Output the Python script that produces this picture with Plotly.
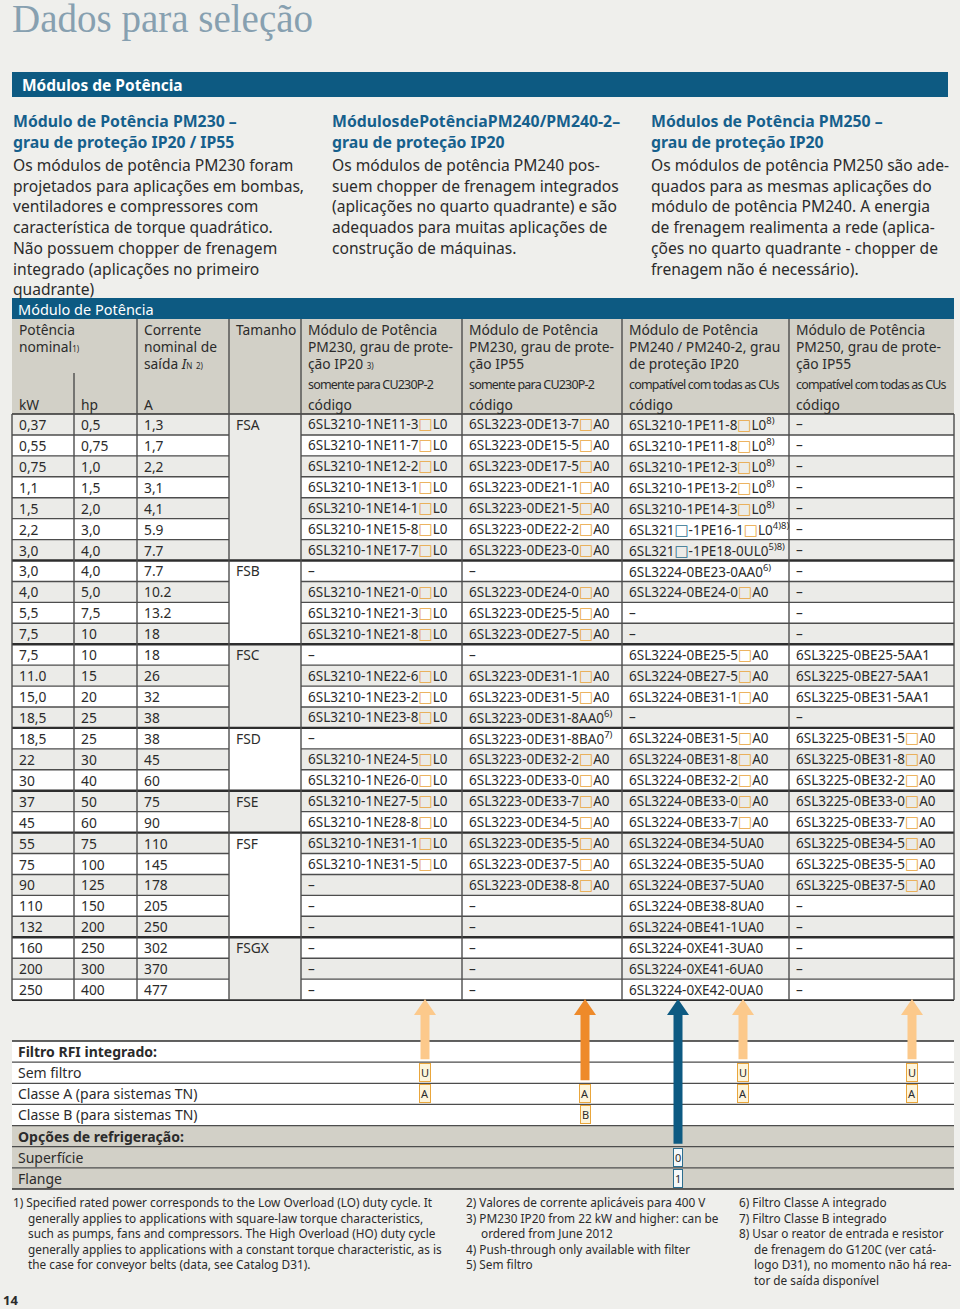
import plotly.graph_objects as go

# ---------------- data ----------------
power_kw = ["0,37", "0,55", "0,75", "1,1", "1,5", "2,2", "3,0",
            "3,0", "4,0", "5,5", "7,5",
            "7,5", "11.0", "15,0", "18,5",
            "18,5", "22", "30",
            "37", "45",
            "55", "75", "90", "110", "132",
            "160", "200", "250"]
power_hp = ["0,5", "0,75", "1,0", "1,5", "2,0", "3,0", "4,0",
            "4,0", "5,0", "7,5", "10",
            "10", "15", "20", "25",
            "25", "30", "40",
            "50", "60",
            "75", "100", "125", "150", "200",
            "250", "300", "400"]
current_a = ["1,3", "1,7", "2,2", "3,1", "4,1", "5.9", "7.7",
             "7.7", "10.2", "13.2", "18",
             "18", "26", "32", "38",
             "38", "45", "60",
             "75", "90",
             "110", "145", "178", "205", "250",
             "302", "370", "477"]
frame_sizes = ["FSA", "FSB", "FSC", "FSD", "FSE", "FSF", "FSGX"]
frame_rows = [7, 4, 4, 3, 2, 5, 3]

pm230_ip20 = ["6SL3210-1NE11-3□L0", "6SL3210-1NE11-7□L0", "6SL3210-1NE12-2□L0",
              "6SL3210-1NE13-1□L0", "6SL3210-1NE14-1□L0", "6SL3210-1NE15-8□L0",
              "6SL3210-1NE17-7□L0",
              "–", "6SL3210-1NE21-0□L0", "6SL3210-1NE21-3□L0", "6SL3210-1NE21-8□L0",
              "–", "6SL3210-1NE22-6□L0", "6SL3210-1NE23-2□L0", "6SL3210-1NE23-8□L0",
              "–", "6SL3210-1NE24-5□L0", "6SL3210-1NE26-0□L0",
              "6SL3210-1NE27-5□L0", "6SL3210-1NE28-8□L0",
              "6SL3210-1NE31-1□L0", "6SL3210-1NE31-5□L0", "–", "–", "–",
              "–", "–", "–"]
pm230_ip55 = ["6SL3223-0DE13-7□A0", "6SL3223-0DE15-5□A0", "6SL3223-0DE17-5□A0",
              "6SL3223-0DE21-1□A0", "6SL3223-0DE21-5□A0", "6SL3223-0DE22-2□A0",
              "6SL3223-0DE23-0□A0",
              "–", "6SL3223-0DE24-0□A0", "6SL3223-0DE25-5□A0", "6SL3223-0DE27-5□A0",
              "–", "6SL3223-0DE31-1□A0", "6SL3223-0DE31-5□A0", "6SL3223-0DE31-8AA0",
              "6SL3223-0DE31-8BA0", "6SL3223-0DE32-2□A0", "6SL3223-0DE33-0□A0",
              "6SL3223-0DE33-7□A0", "6SL3223-0DE34-5□A0",
              "6SL3223-0DE35-5□A0", "6SL3223-0DE37-5□A0", "6SL3223-0DE38-8□A0", "–", "–",
              "–", "–", "–"]
pm230_ip55_notes = [""] * 14 + ["6)", "7)"] + [""] * 12
pm240 = ["6SL3210-1PE11-8□L0", "6SL3210-1PE11-8□L0", "6SL3210-1PE12-3□L0",
         "6SL3210-1PE13-2□L0", "6SL3210-1PE14-3□L0", "6SL321■-1PE16-1□L0",
         "6SL321■-1PE18-0UL0",
         "6SL3224-0BE23-0AA0", "6SL3224-0BE24-0□A0", "–", "–",
         "6SL3224-0BE25-5□A0", "6SL3224-0BE27-5□A0", "6SL3224-0BE31-1□A0", "–",
         "6SL3224-0BE31-5□A0", "6SL3224-0BE31-8□A0", "6SL3224-0BE32-2□A0",
         "6SL3224-0BE33-0□A0", "6SL3224-0BE33-7□A0",
         "6SL3224-0BE34-5UA0", "6SL3224-0BE35-5UA0", "6SL3224-0BE37-5UA0",
         "6SL3224-0BE38-8UA0", "6SL3224-0BE41-1UA0",
         "6SL3224-0XE41-3UA0", "6SL3224-0XE41-6UA0", "6SL3224-0XE42-0UA0"]
pm240_notes = ["8)"] * 5 + ["4)8)", "5)8)", "6)"] + [""] * 20
pm250 = ["–"] * 11 + ["6SL3225-0BE25-5AA1", "6SL3225-0BE27-5AA1", "6SL3225-0BE31-5AA1", "–",
                      "6SL3225-0BE31-5□A0", "6SL3225-0BE31-8□A0", "6SL3225-0BE32-2□A0",
                      "6SL3225-0BE33-0□A0", "6SL3225-0BE33-7□A0",
                      "6SL3225-0BE34-5□A0", "6SL3225-0BE35-5□A0", "6SL3225-0BE37-5□A0",
                      "–", "–", "–", "–", "–"]

rfi_labels = ["Sem filtro", "Classe A (para sistemas TN)", "Classe B (para sistemas TN)"]
cooling_labels = ["Superfície", "Flange"]
rfi_ip20 = ["U", "A", ""]
rfi_ip55 = ["", "A", "B"]
rfi_pm240 = ["U", "A", ""]
rfi_pm250 = ["U", "A", ""]
cooling_pm240 = ["0", "1"]

# ---------------- style / layout ----------------
PAGE_W, PAGE_H = 960, 1309
FONT = "Noto Sans"
PAGE_BG = "#efefec"
BLUE = "#0d5a82"
HEAD_BLUE = "#16608c"
TITLE_GRAY = "#87a0b0"
TEXT = "#2b2b2b"
HEAD_FILL = "#d2d0c7"
ROW_ALT = "#ebebe8"
LINE = "#4d4d4d"
LINE_DARK = "#2e2e2e"
BOX_ORANGE = "#e9a63c"
BOX_BLUE = "#2c6d8e"

COL_EDGES = [12, 74, 137, 229, 301, 462, 622, 789, 954]
HEAD_TOP, HEAD_BOTTOM = 319, 414
ROW_H = 20.93
LOWER_TOP, LOWER_H = 1041, 21.14
ARROW_TOP = 999

fig = go.Figure()


def rect(x0, y0, x1, y1, fill):
    fig.add_shape(type="rect", xref="x", yref="y", x0=x0, y0=y0, x1=x1, y1=y1,
                  fillcolor=fill, line=dict(width=0), layer="above")


def line(x0, y0, x1, y1, width=1.4, color=LINE):
    fig.add_shape(type="line", xref="x", yref="y", x0=x0, y0=y0, x1=x1, y1=y1,
                  line=dict(width=width, color=color), layer="above")


def text(x, y, s, size=13.5, color=TEXT, family=FONT, xanchor="left"):
    fig.add_annotation(x=x, y=y, xref="x", yref="y", text=s, showarrow=False,
                       xanchor=xanchor, yanchor="middle", align="left",
                       font=dict(family=family, size=size, color=color))


def code_html(code, note=""):
    box = '<span style="font-family:\'DejaVu Sans\';font-size:15px;color:{}">□</span>'
    s = code.replace("□", box.format(BOX_ORANGE)).replace("■", box.format(BOX_BLUE))
    if note:
        s += f"<sup>{note}</sup>"
    return s


def small(s):
    # small footnote marks in the header, kept on the text line
    return f'<span style="font-size:8px">{s}</span>'


def row_y(i):
    return HEAD_BOTTOM + (i + 0.5) * ROW_H


# ---- page title and intro ----
text(10, 19, "Dados para seleção", size=39, color=TITLE_GRAY, family="Liberation Serif")
rect(12, 72, 948, 97, BLUE)
text(20, 84.5, "<b>Módulos de Potência</b>", size=15.5, color="white")

intro = [
    (13, ["Módulo de Potência PM230 –", "grau de proteção IP20 / IP55"],
     ["Os módulos de potência PM230 foram", "projetados para aplicações em bombas,",
      "ventiladores e compressores com", "característica de torque quadrático.",
      "Não possuem chopper de frenagem", "integrado (aplicações no primeiro", "quadrante)"]),
    (332, ['<span style="word-spacing:-4px">Módulos de Potência PM240/PM240-2 –</span>',
           "grau de proteção IP20"],
     ["Os módulos de potência PM240 pos-", "suem chopper de frenagem integrados",
      "(aplicações no quarto quadrante) e são", "adequados para muitas aplicações de",
      "construção de máquinas."]),
    (651, ["Módulos de Potência PM250 –", "grau de proteção IP20"],
     ["Os módulos de potência PM250 são ade-", "quados para as mesmas aplicações do",
      "módulo de potência PM240. A energia", "de frenagem realimenta a rede (aplica-",
      "ções no quarto quadrante - chopper de", "frenagem não é necessário)."]),
]
for x, heads, body in intro:
    for k, h in enumerate(heads):
        text(x - 2, 121 + k * 21, f"<b>{h}</b>", size=15.8, color=HEAD_BLUE)
    for k, b in enumerate(body):
        text(x - 2, 165 + k * 20.7, b, size=15.6)

# ---- table frame ----
n_rows = len(power_kw)
table_bottom = HEAD_BOTTOM + n_rows * ROW_H
rect(COL_EDGES[0], 298, COL_EDGES[-1], HEAD_TOP, BLUE)
text(16, 309, "Módulo de Potência", size=14.5, color="white")
rect(COL_EDGES[0], HEAD_TOP, COL_EDGES[-1], HEAD_BOTTOM, HEAD_FILL)

for i in range(n_rows):
    rect(COL_EDGES[0], HEAD_BOTTOM + i * ROW_H, COL_EDGES[-1], HEAD_BOTTOM + (i + 1) * ROW_H,
         ROW_ALT if i % 2 == 0 else "white")

group_starts = []
start = 0
for g, cnt in enumerate(frame_rows):
    group_starts.append(start)
    rect(COL_EDGES[3], HEAD_BOTTOM + start * ROW_H, COL_EDGES[4],
         HEAD_BOTTOM + (start + cnt) * ROW_H, ROW_ALT if g % 2 == 0 else "white")
    start += cnt

# row lines
for i in range(1, n_rows):
    y = HEAD_BOTTOM + i * ROW_H
    if i in group_starts:
        line(COL_EDGES[0], y, COL_EDGES[-1], y, width=2.3, color=LINE_DARK)
    else:
        line(COL_EDGES[0], y, COL_EDGES[3], y)
        line(COL_EDGES[4], y, COL_EDGES[-1], y)
line(COL_EDGES[0], HEAD_BOTTOM, COL_EDGES[-1], HEAD_BOTTOM, width=1.7, color=LINE_DARK)
line(COL_EDGES[0], table_bottom, COL_EDGES[-1], table_bottom, width=1.7, color=LINE_DARK)

# column lines
for k, x in enumerate(COL_EDGES):
    top = 373 if k == 1 else HEAD_TOP
    if k in (0, len(COL_EDGES) - 1):
        top = HEAD_BOTTOM
    line(x, top, x, table_bottom, width=1.4)

# header texts
hx = [e + 5 for e in COL_EDGES]
header_cols = [
    (0, ["Potência", "nominal" + small("1)")], None),
    (2, ["Corrente", "nominal de", "saída <i>I</i>" + small("N") + " " + small("2)")], None),
    (3, ["Tamanho"], None),
    (4, ["Módulo de Potência", "PM230, grau de prote-", "ção IP20 " + small("3)")], "somente para CU230P-2"),
    (5, ["Módulo de Potência", "PM230, grau de prote-", "ção IP55"], "somente para CU230P-2"),
    (6, ["Módulo de Potência", "PM240 / PM240-2, grau", "de proteção IP20"], "compatível com todas as CUs"),
    (7, ["Módulo de Potência", "PM250, grau de prote-", "ção IP55"], "compatível com todas as CUs"),
]
for c, lines_, sub in header_cols:
    for k, s in enumerate(lines_):
        text(hx[c], 329 + k * 17, s, size=13.8)
    if sub:
        text(hx[c], 384, f'<span style="letter-spacing:-0.8px">{sub}</span>', size=12.5)
        text(hx[c], 404, "código", size=13.8)
for c, unit in [(0, "kW"), (1, "hp"), (2, "A")]:
    text(hx[c], 404, unit, size=13.8)

# body cells
for i in range(n_rows):
    y = row_y(i)
    text(hx[0], y, power_kw[i], size=13.8)
    text(hx[1], y, power_hp[i], size=13.8)
    text(hx[2], y, current_a[i], size=13.8)
    text(hx[4], y, code_html(pm230_ip20[i]))
    text(hx[5], y, code_html(pm230_ip55[i], pm230_ip55_notes[i]))
    text(hx[6], y, code_html(pm240[i], pm240_notes[i]))
    text(hx[7], y, code_html(pm250[i]))
for g, name in enumerate(frame_sizes):
    text(hx[3], row_y(group_starts[g]), name, size=13.8)

# ---- option section ----
lower_rows = ["<b>Filtro RFI integrado:</b>"] + rfi_labels + \
             ["<b>Opções de refrigeração:</b>"] + cooling_labels
for r, label in enumerate(lower_rows):
    y0 = LOWER_TOP + r * LOWER_H
    rect(COL_EDGES[0], y0, COL_EDGES[-1], y0 + LOWER_H, "white" if r < 4 else HEAD_FILL)
    text(16, y0 + LOWER_H / 2, label, size=14)
for r in range(len(lower_rows) + 1):
    y = LOWER_TOP + r * LOWER_H
    line(COL_EDGES[0], y, COL_EDGES[-1], y, width=1.6 if r in (0, len(lower_rows)) else 1.3,
         color=LINE_DARK if r in (0, len(lower_rows)) else LINE)

option_sets = [
    (425, rfi_ip20, 1, "#fcc98b", BOX_ORANGE),
    (585, rfi_ip55, 1, "#ee8a2a", BOX_ORANGE),
    (743, rfi_pm240, 1, "#fcc98b", BOX_ORANGE),
    (912, rfi_pm250, 1, "#fcc98b", BOX_ORANGE),
    (678, cooling_pm240, 5, BLUE, BOX_BLUE),
]
for x, letters, first_row, arrow_color, box_color in option_sets:
    first = next(k for k, v in enumerate(letters) if v)
    y_end = LOWER_TOP + (first_row + first) * LOWER_H - 3
    head = ARROW_TOP + 16
    fig.add_shape(type="path", xref="x", yref="y", layer="above",
                  path=(f"M {x - 4.5},{y_end} L {x - 4.5},{head} L {x - 11},{head} "
                        f"L {x},{ARROW_TOP} L {x + 11},{head} L {x + 4.5},{head} "
                        f"L {x + 4.5},{y_end} Z"),
                  fillcolor=arrow_color, line=dict(width=0))
    for k, letter in enumerate(letters):
        if letter:
            fig.add_annotation(x=x, y=LOWER_TOP + (first_row + k + 0.5) * LOWER_H,
                               xref="x", yref="y", text=letter, showarrow=False,
                               font=dict(family=FONT, size=11, color=TEXT),
                               bgcolor="#fdf5dc" if box_color == BOX_ORANGE else "#f4f8fa",
                               bordercolor=box_color, borderwidth=1, borderpad=1)

# ---- footnotes ----
footnotes = [
    (13, [["1) Specified rated power corresponds to the Low Overload (LO) duty cycle. It",
           "generally applies to applications with square-law torque characteristics,",
           "such as pumps, fans and compressors. The High Overload (HO) duty cycle",
           "generally applies to applications with a constant torque characteristic, as is",
           "the case for conveyor belts (data, see Catalog D31)."]]),
    (466, [["2) Valores de corrente aplicáveis para 400 V"],
           ["3) PM230 IP20 from 22 kW and higher: can be", "ordered from June 2012"],
           ["4) Push-through only available with filter"],
           ["5) Sem filtro"]]),
    (739, [["6) Filtro Classe A integrado"],
           ["7) Filtro Classe B integrado"],
           ["8) Usar o reator de entrada e resistor", "de frenagem do G120C (ver catá-",
            "logo D31), no momento não há rea-", "tor de saída disponível"]]),
]
for x, notes in footnotes:
    k = 0
    for note in notes:
        for j, s in enumerate(note):
            text(x - 2 + (15 if j else 0), 1202 + k * 15.6, s, size=11.8)
            k += 1
text(1, 1300, "<b>14</b>", size=13)

fig.update_xaxes(range=[0, PAGE_W], visible=False, fixedrange=True)
fig.update_yaxes(range=[PAGE_H, 0], visible=False, fixedrange=True)
fig.update_layout(width=PAGE_W, height=PAGE_H, margin=dict(l=0, r=0, t=0, b=0),
                  plot_bgcolor=PAGE_BG, paper_bgcolor=PAGE_BG, showlegend=False)

fig.write_html("out.html", config={"displayModeBar": False},
               post_script="document.body.style.margin='0';document.body.style.overflow='hidden';")
